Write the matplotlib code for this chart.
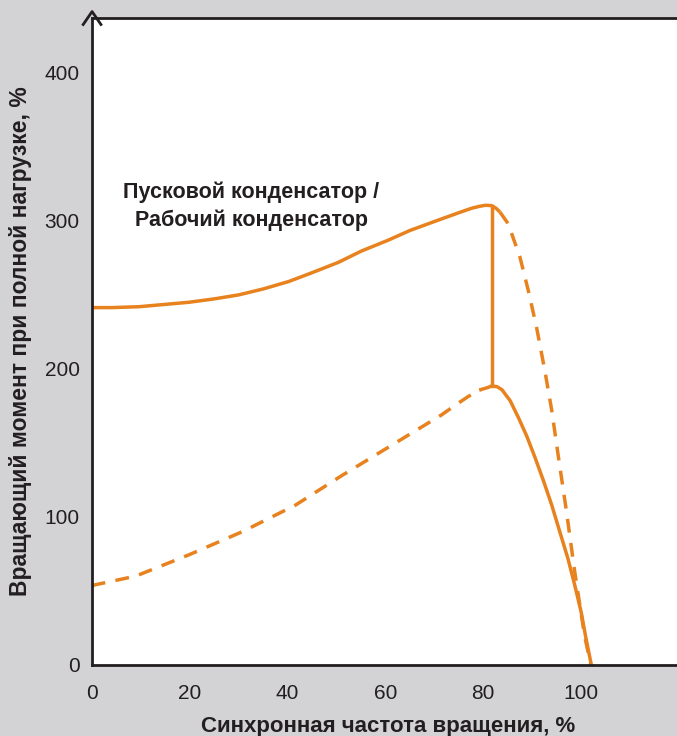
import numpy as np
import matplotlib.pyplot as plt

plt.rcParams['font.family'] = ['Liberation Sans', 'DejaVu Sans']

orange = '#e8821e'
dark = '#231f20'

# Пусковой конденсатор (сплошная, верхняя)
start_x = [0, 4, 9.6, 14, 19.8, 25, 30, 35, 40.2, 45, 50.4, 55, 60.6, 65, 70.8, 75, 77.6, 79.2, 80.4, 81.7, 82.6, 83.4]
start_y = [241.4, 241.4, 242, 243.3, 245, 247.3, 250, 254, 259, 265, 272, 279.5, 287, 293.5, 300.5, 305.5, 308.5, 309.8, 310.5, 310.3, 308.5, 306]
# без переключения (штрих, верхняя)
start_ext_x = [83.4, 85.1, 87.5, 89.2, 90.9, 92.6, 94, 95.3, 97, 98.7, 100.7, 102]
start_ext_y = [306, 298, 275.5, 253, 228, 198.6, 172, 142, 104, 63, 20, 0]
# Рабочий конденсатор (штрих, нижняя)
run_x = [0, 0.4, 8.9, 19.8, 30.7, 41.6, 51.1, 61.3, 71.5, 74.5, 77, 79.5]
run_y = [53, 54, 60, 74.4, 90, 108, 128, 148.5, 169, 176, 181.5, 186]
# Рабочий конденсатор после переключения (сплошная, нижняя)
run_on_x = [79.5, 81, 81.7, 82.8, 83.8, 85.5, 87.2, 88.9, 90.6, 92.3, 94, 95.6, 97.3, 98.7, 100, 101, 102.1]
run_on_y = [186, 187.5, 188.5, 188, 186, 178.5, 167, 154.5, 140, 124.5, 108, 90.5, 72, 54, 36, 18, 0]
switch_x = 81.7

xticks = [0, 20, 40, 60, 80, 100]
yticks = [0, 100, 200, 300, 400]

fig = plt.figure(figsize=(6.77, 7.36), dpi=100, facecolor='#d3d3d5')
ax = fig.add_axes([0.136, 0.0965, 0.874, 0.879])
ax.set_facecolor('white')

ax.plot(start_x, start_y, color=orange, lw=2.5, solid_capstyle='butt', solid_joinstyle='round')
ax.plot(start_ext_x, start_ext_y, color=orange, lw=2.5, ls=(0, (4, 3)))
ax.plot(run_x, run_y, color=orange, lw=2.5, ls=(0, (4, 3)))
ax.plot(run_on_x, run_on_y, color=orange, lw=2.5, solid_joinstyle='round')
ax.plot([switch_x, switch_x], [188.5, 310.3], color=orange, lw=2.5)

ax.text(32.6, 310, 'Пусковой конденсатор /\nРабочий конденсатор', ha='center', va='center',
        fontsize=15.5, fontweight='bold', color=dark, linespacing=1.4)

ax.set_xlim(0, 121)
ax.set_ylim(0, 437)
ax.set_xticks(xticks)
ax.set_yticks(yticks)
ax.tick_params(length=0, labelsize=15, colors=dark)
ax.tick_params(axis='x', pad=14)
ax.tick_params(axis='y', pad=9)
for s in ax.spines.values():
    s.set_color(dark)
    s.set_linewidth(2)

ax.set_xlabel('Синхронная частота вращения, %', fontsize=16, fontweight='bold', color=dark, labelpad=9)
ax.set_ylabel('Вращающий момент при полной нагрузке, %', fontsize=16.5, fontweight='bold', color=dark, labelpad=9)

# стрелка на оси Y
ax.plot([-0.015, 0, 0.015], [0.99, 1.01, 0.99], transform=ax.transAxes, color=dark, lw=2, clip_on=False)

fig.savefig('out.png', dpi=100, facecolor=fig.get_facecolor())
